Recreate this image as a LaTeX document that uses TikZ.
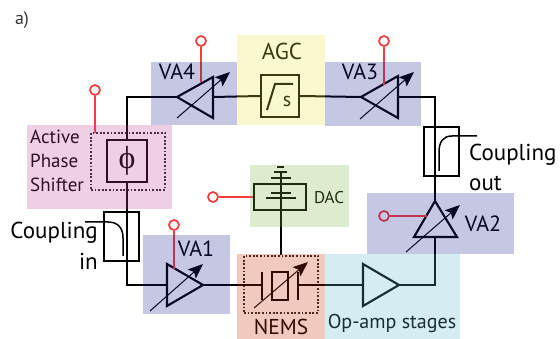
\documentclass[tikz,border=0pt]{standalone}
\usepackage{fontspec}
\setmainfont{PT Sans}
\newfontfamily\phifont{Liberation Serif}
\usetikzlibrary{arrows.meta}
\definecolor{tintva}{RGB}{24,32,144}
\definecolor{tintagc}{RGB}{236,228,64}
\definecolor{tintphase}{RGB}{192,64,144}
\definecolor{tintnems}{RGB}{204,40,0}
\definecolor{tintop}{RGB}{88,180,208}
\definecolor{tintdac}{RGB}{120,176,64}
\definecolor{redline}{RGB}{245,60,60}
\tikzset{
  x=1pt,y=-1pt,
  wire/.style={draw=black,line width=2pt,line join=miter},
  thinwire/.style={draw=black,line width=1.5pt},
  tri/.style={draw=black,line width=2.1pt,line join=miter},
  ctrl/.style={draw=redline,line width=2pt},
  pin/.style={circle,draw=redline,line width=1.7pt,fill=white,inner sep=0pt,minimum size=10pt},
  box/.style={draw=black,line width=2pt,inner sep=0pt},
  dots/.style={draw=black!85,line width=1.8pt,dash pattern=on 1.8pt off 1.8pt,inner sep=0pt},
  tune/.style={draw=black,line width=1pt,-{Stealth[length=15pt,width=12pt,inset=3pt]}},
  tint/.style={fill opacity=.25,draw=none},
  lab/.style={inner sep=0pt,font=\fontsize{23}{26}\selectfont},
  valab/.style={inner sep=0pt,font=\fontsize{22}{26}\selectfont},
  smalllab/.style={inner sep=0pt,font=\fontsize{19}{22}\selectfont},
}
\begin{document}
\begin{tikzpicture}
\useasboundingbox (0,0) rectangle (560,339);
% blocks
\node[box,minimum width=40pt,minimum height=42pt] (phi) at (127,161) {};
\node[dots,minimum width=74pt,minimum height=57pt] (phid) at (128,161.5) {};
\node[inner sep=0pt,font=\phifont\fontsize{32}{34}\selectfont] (philab) at (127,161) {ϕ};
\node[box,minimum width=38pt,minimum height=42pt] (agc) at (280,96) {};
\node[inner sep=0pt,font=\fontsize{20}{22}\selectfont] (agcs) at (287,102) {s};
\coordinate (s1) at (267,110);
\coordinate (s2) at (275,84);
\coordinate (s3) at (293,84);
\draw[line width=2pt] (s1) -- (s2) -- (s3);
\node[dots,minimum width=74pt,minimum height=57pt] (nemsd) at (281,284.5) {};
\node[box,minimum width=16pt,minimum height=28pt] (res) at (280,286) {};
\node[box,minimum width=52pt,minimum height=26pt] (dacb) at (280,197) {};
\node[box,minimum width=35pt,minimum height=49pt] (cin) at (121.5,236.5) {};
\node[box,minimum width=35pt,minimum height=49pt] (cout) at (441.5,151.5) {};
% amplifier points
\coordinate (va4tip) at (177,97); \coordinate (va4a) at (213,77); \coordinate (va4b) at (213,118); \coordinate (va4base) at (213,97);
\coordinate (va3tip) at (361,97); \coordinate (va3a) at (398,76); \coordinate (va3b) at (398,118); \coordinate (va3base) at (398,97);
\coordinate (va2tip) at (435,201); \coordinate (va2a) at (414,237); \coordinate (va2b) at (457,237); \coordinate (va2base) at (435,237);
\coordinate (va1tip) at (203,285); \coordinate (va1a) at (167,264); \coordinate (va1b) at (167,306); \coordinate (va1base) at (167,285);
\coordinate (optip) at (399,285); \coordinate (opa) at (363,264); \coordinate (opb) at (363,306); \coordinate (opbase) at (363,285);
\coordinate (pl1) at (262,272); \coordinate (pl2) at (262,300); \coordinate (plm) at (262,285);
\coordinate (pr1) at (298,272); \coordinate (pr2) at (298,300); \coordinate (prm) at (298,285);
% signal loop
\draw[wire] (phi.south) -- (127,285) -- (va1base);
\draw[wire] (phi.north) -- (127,97) -- (va4tip);
\draw[wire] (va4base) -- (agc.west);
\draw[wire] (agc.east) -- (va3tip);
\draw[wire] (va3base) -- (435,97) -- (va2tip);
\draw[wire] (va2base) -- (435,285) -- (optip);
\draw[wire] (opbase) -- (prm);
\draw[wire] (va1tip) -- (plm);
\draw[wire] (nemsd.north) -- (281,172);
% amplifiers
\foreach \n in {va4,va3,va2,va1,op}{\draw[tri] (\n tip) -- (\n a) -- (\n b) -- cycle;}
% tuning arrows
\coordinate (t4a) at (177,118); \coordinate (t4b) at (230,72);
\coordinate (t3a) at (360,119); \coordinate (t3b) at (414,72);
\coordinate (t2a) at (406,252); \coordinate (t2b) at (460,205);
\coordinate (t1a) at (150,311); \coordinate (t1b) at (203,264);
\coordinate (tna) at (254,308); \coordinate (tnb) at (308,262);
\foreach \n in {4,3,2,1,n}{\draw[tune] (t\n a) -- (t\n b);}
% NEMS plates
\draw[line width=2pt] (pl1) -- (pl2) (pr1) -- (pr2);
% DAC bars
\coordinate (b1a) at (266,198); \coordinate (b1b) at (296,198);
\coordinate (b2a) at (271,193); \coordinate (b2b) at (291,193);
\coordinate (b3a) at (271,178); \coordinate (b3b) at (291,178);
\coordinate (b4a) at (274,172); \coordinate (b4b) at (287,172);
\coordinate (b5a) at (277,167); \coordinate (b5b) at (284,167);
\draw[line width=1.7pt] (b1a) -- (b1b) (b2a) -- (b2b) (b3a) -- (b3b) (b4a) -- (b4b) (b5a) -- (b5b);
% couplers
\coordinate (ci0) at (85,222); \coordinate (ci1) at (123,256);
\draw[thinwire] (ci0) -- (108,222) .. controls (118,222) and (123,228) .. (123,238) -- (ci1);
\coordinate (co0) at (477,136); \coordinate (co1) at (439,171);
\draw[thinwire] (co0) -- (452,136) .. controls (443,136) and (439,142) .. (439,152) -- (co1);
% control pins
\node[pin] (p4) at (201,41) {};
\node[pin] (p3) at (384,41) {};
\node[pin] (p1) at (174,225) {};
\node[pin] (p2) at (384,216) {};
\node[pin] (pp) at (95,90) {};
\node[pin] (pd) at (213,197) {};
\coordinate (c4) at (201,82); \coordinate (c3) at (384,85); \coordinate (c1) at (174,269); \coordinate (c2) at (427,216); \coordinate (cp) at (95,133);
\draw[ctrl] (p4) -- (c4);
\draw[ctrl] (p3) -- (c3);
\draw[ctrl] (p1) -- (c1);
\draw[ctrl] (p2) -- (c2);
\draw[ctrl] (pp) -- (cp);
\draw[ctrl] (pd) -- (dacb.west);
% labels
\node[inner sep=0pt,font=\fontsize{18}{20}\selectfont,text=black!80] (la) at (22,20) {a)};
\node[valab] (l4) at (177,72) {VA4};
\node[valab] (l3) at (360,72) {VA3};
\node[valab] (l2) at (483,224) {VA2};
\node[valab] (l1) at (196,249) {VA1};
\node[inner sep=0pt,font=\fontsize{23}{26}\selectfont] (lagc) at (282,51) {AGC};
\node[inner sep=0pt,font=\fontsize{21.5}{24}\selectfont] (ln) at (281,326.5) {NEMS};
\node[inner sep=0pt,font=\fontsize{17}{20}\selectfont] (ldac) at (329,198) {DAC};
\node[inner sep=0pt,font=\fontsize{20}{22}\selectfont] (lop) at (392,324) {Op-amp stages};
\node[smalllab,anchor=west] (lp1) at (30,137) {Active};
\node[smalllab,anchor=west] (lp2) at (30,161) {Phase};
\node[smalllab,anchor=west] (lp3) at (30,185) {Shifter};
\node[lab,anchor=east] (ci) at (98,233) {Coupling};
\node[lab,anchor=east] (cii) at (98,261) {in};
\node[lab,anchor=west] (co) at (469,155) {Coupling};
\node[lab,anchor=west] (coo) at (469,183) {out};
% translucent panels, laid over the drawing as in the original
\fill[tintva,tint] (151,62) rectangle (237,125);
\fill[tintagc,tint] (237,35) rectangle (325,125);
\fill[tintva,tint] (325,62) rectangle (421,126);
\fill[tintphase,tint] (27,125) rectangle (172,209);
\fill[tintva,tint] (143,235) rectangle (230,314);
\fill[tintnems,tint] (237,254) rectangle (325,339);
\fill[tintop,tint] (325,254) rectangle (460,339);
\fill[tintva,tint] (367,193) rectangle (514,254);
\fill[tintdac,tint] (250,165) rectangle (349,227);
\end{tikzpicture}
\end{document}
